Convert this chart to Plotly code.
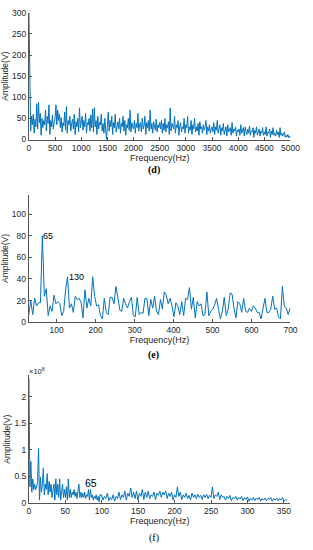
import numpy as np
import plotly.graph_objects as go

# ---------------- data ----------------
# (d) full spectrum 0-5000 Hz
amp_d = [300,
    82,20,55,35,60,15,48,30,85,25,88,40,62,10,50,28,45,35,70,20,55,38,82,12,45,30,58,25,40,50,
    82,35,70,45,60,28,52,18,40,32,65,22,78,15,45,35,55,20,38,48,25,60,12,42,30,50,18,75,28,40,
    55,22,45,30,62,15,40,35,50,20,58,28,72,18,75,30,45,12,55,25,40,35,60,20,38,15,50,25,0,35,
    65,20,45,30,55,12,40,28,60,18,35,42,25,50,15,38,30,55,20,45,10,35,28,50,22,70,18,40,30,25,
    45,15,38,28,62,20,35,40,18,50,25,32,55,12,40,28,45,20,70,25,38,15,42,30,22,48,18,35,28,40,
    25,45,15,38,22,50,18,35,28,42,12,75,20,38,30,25,55,15,35,28,45,10,32,40,18,30,25,50,15,35,
    28,55,15,30,22,45,12,35,25,50,18,30,20,38,10,42,25,30,15,35,22,28,45,12,30,20,35,15,25,30,
    18,40,12,30,22,45,15,25,35,10,28,20,38,12,25,30,8,35,18,22,28,10,40,15,25,20,30,8,22,18,
    25,10,35,15,20,28,8,30,18,12,25,15,32,10,20,18,28,5,22,15,30,10,18,25,8,20,15,28,10,18,
    12,30,8,18,15,25,5,20,12,28,10,15,8,22,12,18,5,28,10,15,8,12,18,5,10,6,12,4,8,5]
freq_d = np.linspace(0, 5000, len(amp_d))

# (e) zoomed spectrum 29-699 Hz
amp_e = [7,20,7,22,15,18,18,80,24,31,
         6,15,10,25,17,19,17,6,10,30,
         42,13,17,9,24,21,22,18,4,30,
         13,22,15,42,24,15,16,6,3,22,
         9,7,23,23,17,33,23,11,10,22,
         17,13,19,23,6,5,23,7,9,8,
         22,22,6,21,13,24,10,7,21,12,
         28,25,17,22,15,5,18,15,7,19,
         6,22,21,32,12,23,4,19,15,17,
         6,7,28,6,10,12,16,22,12,3,
         10,23,6,12,27,26,13,4,19,17,
         9,22,10,9,13,10,15,13,9,9,
         3,13,22,9,9,12,24,12,13,5,
         3,33,15,13,7,13]
freq_e = np.linspace(29, 699, len(amp_e))
peak_e_idx = [7, 20]
peak_e_labels = ["65", "130"]

# (f) spectrum 0-355 Hz, amplitude in units of 1e8
amp_f_low = [2.35,0.3,0.78,0.2,0.45,0.25,0.35,0.25,0.3,0.4,
             1.02,0.05,0.48,0.2,0.35,0.65,0.15,0.35,0.25,0.55,
             0.15,0.4,0.2,0.35,0.1,0.2,0.35,0.05,0.45,0.15,
             0.35,0.1,0.45,0.05,0.25,0.35,0.1,0.25,0.1,0.3,
             0.05,0.45,0.1,0.25,0.1,0.2,0.15,0.25,0.12,0.2,
             0.08,0.2,0.35,0.1,0.2,0.1,0.18,0.1,0.2,0.08,
             0.15,0.12,0.25,0.05,0.25,0.1,0.15,0.05,0.12,0.08,
             0.15,0.05,0.12,0.02,0.15]
amp_f_high = [0.15,0.05,0.12,0.08,0.18,0.04,0.1,0.06,0.15,0.03,0.12,
              0.08,0.2,0.06,0.15,0.1,0.22,0.05,0.18,0.12,0.28,
              0.1,0.2,0.08,0.22,0.05,0.18,0.12,0.25,0.06,0.2,
              0.1,0.22,0.08,0.15,0.12,0.2,0.06,0.18,0.14,0.22,
              0.1,0.2,0.15,0.22,0.08,0.18,0.12,0.2,0.05,0.15,
              0.1,0.3,0.12,0.2,0.06,0.15,0.1,0.18,0.08,0.14,
              0.05,0.18,0.1,0.15,0.08,0.16,0.1,0.14,0.06,0.15,
              0.1,0.16,0.08,0.14,0.1,0.3,0.08,0.15,0.12,0.2,
              0.06,0.15,0.1,0.12,0.05,0.12,0.08,0.14,0.04,0.1,
              0.08,0.12,0.05,0.1,0.07,0.12,0.04,0.1,0.06,0.11,
              0.03,0.08,0.05,0.1,0.04,0.09,0.06,0.1,0.03,0.08,
              0.05,0.09,0.04,0.08,0.06,0.1,0.03,0.08,0.05,0.09,
              0.04,0.08,0.05,0.1,0.03,0.06,0.05]
amp_f = amp_f_low + amp_f_high
freq_f = np.concatenate([np.linspace(0, 97.6, len(amp_f_low)),
                         np.linspace(99.6, 354, len(amp_f_high))])

x_ticks_d = list(range(0, 5001, 500))
y_ticks_d = list(range(0, 301, 50))
x_ticks_e = list(range(100, 701, 100))
y_ticks_e = list(range(0, 101, 20))
x_ticks_f = list(range(0, 351, 50))
y_ticks_f = [0, 0.5, 1, 1.5, 2]
y_tick_text_f = ["0", "0.5", "1", "1.5", "2"]
captions = ["<b>(d)</b>", "<b>(e)</b>", "(f)"]

# ---------------- figure ----------------
W, H = 313, 550
BLUE = "#0072BD"
AX = "#555555"
TXT = "#262626"
FONT = "Liberation Sans, Arial, sans-serif"
TICK = 8.5

def px_x(p):
    return p / W

def px_y(p):
    return 1 - p / H

fig = go.Figure()
fig.add_trace(go.Scatter(x=freq_d, y=amp_d, mode="lines",
                         line=dict(color=BLUE, width=1), xaxis="x", yaxis="y"))
fig.add_trace(go.Scatter(x=freq_e, y=amp_e, mode="lines",
                         line=dict(color=BLUE, width=1), xaxis="x2", yaxis="y2"))
fig.add_trace(go.Scatter(x=freq_f, y=amp_f, mode="lines",
                         line=dict(color=BLUE, width=1), xaxis="x3", yaxis="y3"))

def xax(domain, rng, ticks, anchor):
    return dict(domain=domain, range=rng, tickvals=ticks, anchor=anchor,
                showline=True, linecolor=AX, linewidth=1, ticks="inside",
                ticklen=3, tickcolor=AX, showgrid=False, zeroline=False,
                tickfont=dict(size=TICK, color=TXT, family=FONT),
                title=dict(text="Frequency(Hz)", standoff=2,
                           font=dict(size=9, color=TXT, family=FONT)))

def yax(domain, rng, ticks, anchor, ticktext=None):
    d = dict(domain=domain, range=rng, tickvals=ticks, anchor=anchor,
             showline=True, linecolor=AX, linewidth=1, ticks="inside",
             ticklen=3, tickcolor=AX, showgrid=False, zeroline=False,
             tickfont=dict(size=TICK, color=TXT, family=FONT),
             title=dict(text="Amplitude(V)", standoff=2,
                        font=dict(size=8.5, color=TXT, family=FONT)))
    if ticktext is not None:
        d["ticktext"] = ticktext
    return d

fig.update_layout(
    width=W, height=H, margin=dict(l=0, r=0, t=0, b=0),
    paper_bgcolor="white", plot_bgcolor="white", showlegend=False,
    font=dict(family=FONT, color=TXT),
    xaxis=xax([px_x(28), px_x(300)], [0, 5000], x_ticks_d, "y"),
    yaxis=yax([px_y(137), px_y(8)], [0, 300], y_ticks_d, "x"),
    xaxis2=xax([px_x(27.7), px_x(300)], [28.5, 700], x_ticks_e, "y2"),
    yaxis2=yax([px_y(323), px_y(193.3)], [0, 118], y_ticks_e, "x2"),
    xaxis3=xax([px_x(28), px_x(300)], [0, 359], x_ticks_f, "y3"),
    yaxis3=yax([px_y(507), px_y(377.3)], [0, 2.4], y_ticks_f, "x3", y_tick_text_f),
)

# peak labels (e)
for idx, lab in zip(peak_e_idx, peak_e_labels):
    fig.add_annotation(x=freq_e[idx], y=amp_e[idx], xref="x2", yref="y2",
                       text=lab, showarrow=False, xanchor="left", yanchor="middle",
                       xshift=-1, font=dict(size=9, color="black", family=FONT))
# label (f)
fig.add_annotation(x=74, y=0.37, xref="x3", yref="y3", text="65", showarrow=False,
                   xanchor="left", yanchor="middle",
                   font=dict(size=10.5, color="black", family=FONT))
# exponent (f)
fig.add_annotation(x=px_x(26), y=px_y(373), xref="paper", yref="paper",
                   text="×10<sup>8</sup>", showarrow=False, xanchor="left",
                   yanchor="middle", font=dict(size=7.5, color=TXT, family=FONT))

# captions
for cy, cap in zip([168, 356.5, 543], captions):
    fig.add_annotation(x=px_x(158), y=px_y(cy), xref="paper", yref="paper",
                       text=cap, showarrow=False, xanchor="center", yanchor="middle",
                       font=dict(size=10, color="black",
                                 family="Liberation Serif, Times New Roman, serif"))

fig.write_html("out.html",
               config={"displayModeBar": False},
               post_script="document.body.style.margin='0';document.body.style.overflow='hidden';")
